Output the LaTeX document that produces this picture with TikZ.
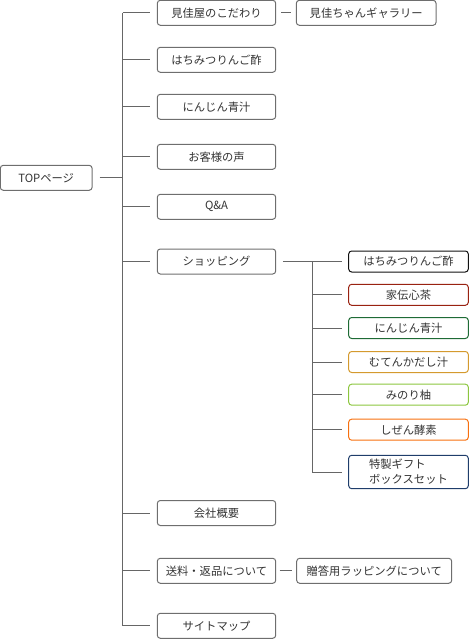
\documentclass[tikz,border=0pt]{standalone}
\usepackage{fontspec}
\setmainfont{Noto Sans CJK JP}
\definecolor{boxgray}{HTML}{6E6E6E}
\definecolor{linegray}{HTML}{666666}
\definecolor{txt}{HTML}{333333}
\definecolor{cBlack}{HTML}{111111}
\definecolor{cRed}{HTML}{992211}
\definecolor{cGreen}{HTML}{1E6B35}
\definecolor{cGold}{HTML}{D49A2E}
\definecolor{cLime}{HTML}{8CC63F}
\definecolor{cOrange}{HTML}{F7700F}
\definecolor{cNavy}{HTML}{1F3D6B}
\begin{document}
\begin{tikzpicture}[x=1pt,y=-1pt,
  base/.style={draw=boxgray, rounded corners=3pt, inner sep=0pt, text=txt,
    font=\fontsize{11.3}{15}\selectfont, line width=1pt},
  mainbox/.style={base, minimum width=118.4pt, minimum height=25pt},
  subbox/.style={base, minimum width=119.6pt, minimum height=21pt},
  conn/.style={draw=linegray, line width=1pt}]
\useasboundingbox (0,0) rectangle (469,639);
% main column
\node[base, minimum width=91.8pt, minimum height=25pt] (top) at (46.2,177.8) {TOPページ};
\node[mainbox] (m1) at (216.5,12.8) {見佳屋のこだわり};
\node[mainbox] (m2) at (216.5,59.8) {はちみつりんご酢};
\node[mainbox] (m3) at (216.5,106.8) {にんじん青汁};
\node[mainbox] (m4) at (216.5,156.8) {お客様の声};
\node[mainbox] (m5) at (216.5,206.8) {Q\&A};
\node[mainbox] (m6) at (216.5,261.5) {ショッピング};
\node[mainbox] (m7) at (216.5,513) {会社概要};
\node[mainbox] (m8) at (216.5,570.8) {送料・返品について};
\node[mainbox] (m9) at (216.5,625.8) {サイトマップ};
% side boxes
\node[base, minimum width=139.7pt, minimum height=25pt] (g1) at (366.2,12.8) {見佳ちゃんギャラリー};
\node[base, minimum width=155pt, minimum height=25pt] (g2) at (374.2,570.8) {贈答用ラッピングについて};
% shopping sub boxes
\node[subbox, draw=cBlack] (s1) at (408.5,261.5) {はちみつりんご酢};
\node[subbox, draw=cRed] (s2) at (408.5,294.8) {家伝心茶};
\node[subbox, draw=cGreen] (s3) at (408.5,328) {にんじん青汁};
\node[subbox, draw=cGold] (s4) at (408.5,362) {むてんかだし汁};
\node[subbox, draw=cLime] (s5) at (408.5,394.7) {みのり柚};
\node[subbox, draw=cOrange] (s6) at (408.5,429.7) {しぜん酵素};
\node[subbox, draw=cNavy, minimum height=33.4pt, align=left] (s7) at (408.5,472) {特製ギフト\\ボックスセット};
% trunk coordinates
\coordinate (tr) at (122.7,0);
\coordinate (st) at (312.3,0);
% main trunk
\draw[conn, shorten <=7pt] (top.east) -- (top.east -| tr);
\draw[conn] (m1.west -| tr) -- (m9.west -| tr);
\foreach \n in {m1,m2,m3,m4,m5,m6,m7,m8,m9}
  \draw[conn, shorten >=6.6pt] (\n.west -| tr) -- (\n.west);
% side connectors
\draw[conn, shorten <=5pt, shorten >=4.6pt] (m1.east) -- (g1.west);
\draw[conn, shorten <=3.5pt, shorten >=4pt] (m8.east) -- (g2.west);
% shopping sub trunk
\draw[conn, shorten <=6.6pt] (m6.east) -- (m6.east -| st);
\draw[conn] (s1.west -| st) -- (s7.west -| st);
\foreach \n in {s1,s2,s3,s4,s5,s6,s7}
  \draw[conn, shorten >=6pt] (\n.west -| st) -- (\n.west);
\end{tikzpicture}
\end{document}
